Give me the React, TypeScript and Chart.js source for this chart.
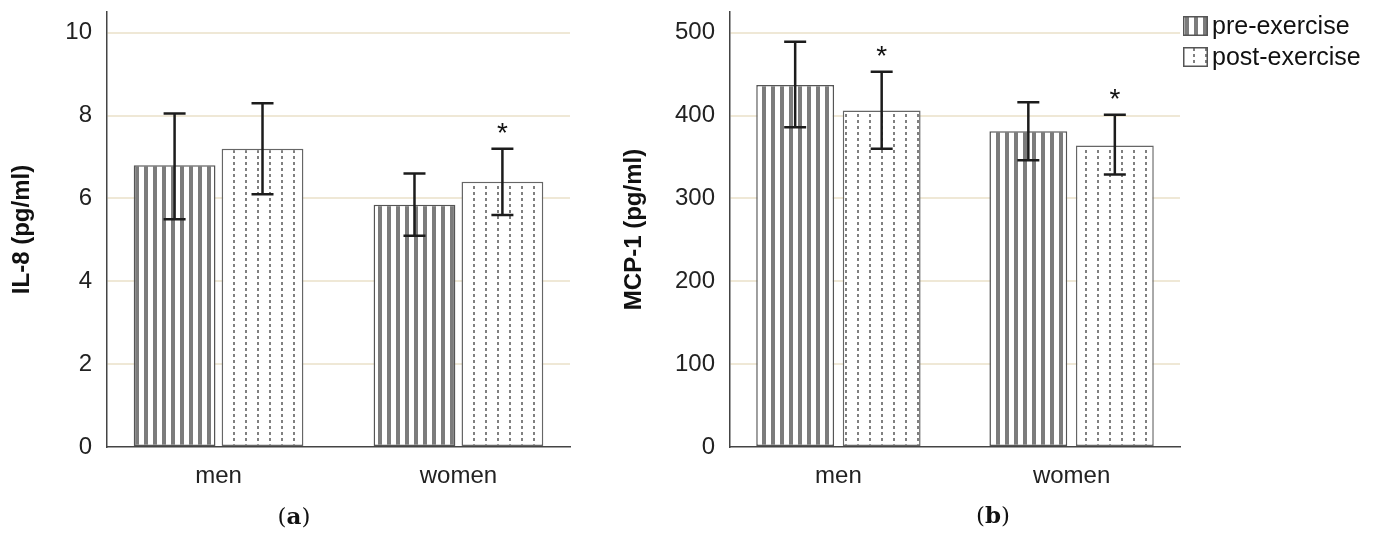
import React, { useEffect, useRef } from 'react';
import { Chart, registerables } from 'chart.js';

Chart.register(...registerables);

// ---------- data ----------
const categories = ['men', 'women'];
const seriesNames = ['pre-exercise', 'post-exercise'];

// Panel (a) IL-8
const il8Pre = [6.8, 5.85];
const il8PreLow = [5.5, 5.1];
const il8PreHigh = [8.05, 6.6];
const il8Post = [7.2, 6.4];
const il8PostLow = [6.1, 5.6];
const il8PostHigh = [8.3, 7.2];
const il8PreSig = [false, false];
const il8PostSig = [false, true];
const il8Ticks = [0, 2, 4, 6, 8, 10];
const il8Max = 10.5;

// Panel (b) MCP-1
const mcpPre = [437, 381];
const mcpPreLow = [386, 346];
const mcpPreHigh = [489, 416];
const mcpPost = [406, 364];
const mcpPostLow = [360, 329];
const mcpPostHigh = [453, 401];
const mcpPreSig = [false, false];
const mcpPostSig = [true, true];
const mcpTicks = [0, 100, 200, 300, 400, 500];
const mcpMax = 525;

const FONT = "'Liberation Sans', Arial, sans-serif";

// ---------- patterns ----------
function makeStripePattern(ctx: CanvasRenderingContext2D) {
  const c = document.createElement('canvas');
  c.width = 9;
  c.height = 4;
  const g = c.getContext('2d')!;
  g.fillStyle = '#ffffff';
  g.fillRect(0, 0, 9, 4);
  g.fillStyle = '#7c7c7c';
  g.fillRect(0, 0, 4, 4);
  return ctx.createPattern(c, 'repeat')!;
}

function makeDotPattern(ctx: CanvasRenderingContext2D) {
  const c = document.createElement('canvas');
  c.width = 12;
  c.height = 6;
  const g = c.getContext('2d')!;
  g.fillStyle = '#ffffff';
  g.fillRect(0, 0, 12, 6);
  g.fillStyle = '#808080';
  g.fillRect(5, 0, 2, 3);
  return ctx.createPattern(c, 'repeat')!;
}

// ---------- plugins ----------
const errorBarPlugin = {
  id: 'errBars',
  afterDatasetsDraw(chart: any, _args: any, opts: any) {
    const ctx = chart.ctx as CanvasRenderingContext2D;
    const y = chart.scales.y;
    chart.data.datasets.forEach((_ds: any, di: number) => {
      const meta = chart.getDatasetMeta(di);
      meta.data.forEach((bar: any, i: number) => {
        const lo = y.getPixelForValue(opts.low[di][i]);
        const hi = y.getPixelForValue(opts.high[di][i]);
        const x = bar.x;
        ctx.save();
        ctx.strokeStyle = '#1c1c1c';
        ctx.lineWidth = 2.5;
        ctx.beginPath();
        ctx.moveTo(x, lo);
        ctx.lineTo(x, hi);
        ctx.moveTo(x - 11, lo);
        ctx.lineTo(x + 11, lo);
        ctx.moveTo(x - 11, hi);
        ctx.lineTo(x + 11, hi);
        ctx.stroke();
        if (opts.sig[di][i]) {
          const fs = 28;
          ctx.fillStyle = '#111';
          ctx.font = `${fs}px ${FONT}`;
          ctx.textAlign = 'center';
          ctx.textBaseline = 'alphabetic';
          ctx.fillText('*', x, hi - 23 + 0.57 * fs);
        }
        ctx.restore();
      });
    });
  },
};

const patternLegendPlugin = {
  id: 'patLegend',
  afterDraw(chart: any, _args: any, opts: any) {
    if (!opts || !opts.show) return;
    const ctx = chart.ctx as CanvasRenderingContext2D;
    chart.data.datasets.forEach((ds: any, di: number) => {
      const bx = opts.x;
      const by = opts.y + di * opts.rowH;
      ctx.save();
      ctx.fillStyle = ds.backgroundColor;
      ctx.fillRect(bx, by, opts.boxW, opts.boxH);
      ctx.strokeStyle = '#555';
      ctx.lineWidth = 1.5;
      ctx.strokeRect(bx + 0.75, by + 0.75, opts.boxW - 1.5, opts.boxH - 1.5);
      ctx.fillStyle = '#111';
      ctx.font = `${opts.fontSize}px ${FONT}`;
      ctx.textAlign = 'left';
      ctx.textBaseline = 'middle';
      ctx.fillText(ds.label, bx + opts.boxW + 4, by + opts.boxH / 2 + 1);
      ctx.restore();
    });
  },
};

// ---------- chart panel ----------
type PanelProps = {
  width: number;
  height: number;
  axisLeft: number;
  plotRight: number;
  title: string;
  titlePad: number;
  pre: number[];
  post: number[];
  preLow: number[];
  preHigh: number[];
  postLow: number[];
  postHigh: number[];
  preSig: boolean[];
  postSig: boolean[];
  ticks: number[];
  yMax: number;
  catPct: number;
  barPct: number;
  legend?: boolean;
};

function Panel(p: PanelProps) {
  const ref = useRef<HTMLCanvasElement>(null);
  useEffect(() => {
    const canvas = ref.current!;
    const ctx = canvas.getContext('2d')!;
    const stripes = makeStripePattern(ctx);
    const dots = makeDotPattern(ctx);
    const chart = new Chart(canvas, {
      type: 'bar',
      data: {
        datasets: [
          {
            label: seriesNames[0],
            data: categories.map((_c, i) => ({ x: i, y: p.pre[i] })),
            backgroundColor: stripes as any,
            borderColor: '#555555',
            borderWidth: 1.5,
            borderSkipped: false,
            categoryPercentage: p.catPct,
            barPercentage: p.barPct,
          },
          {
            label: seriesNames[1],
            data: categories.map((_c, i) => ({ x: i, y: p.post[i] })),
            backgroundColor: dots as any,
            borderColor: '#666666',
            borderWidth: 1.5,
            borderSkipped: false,
            categoryPercentage: p.catPct,
            barPercentage: p.barPct,
          },
        ],
      },
      options: {
        animation: false,
        responsive: false,
        events: [],
        layout: {
          padding: { top: 12, right: p.width - p.plotRight, left: 0, bottom: 0 },
        },
        scales: {
          x: {
            type: 'linear',
            min: -0.465,
            max: 1.465,
            offset: false,
            grid: { display: false },
            border: { display: true, color: '#444', width: 1.5 },
            afterBuildTicks: (scale: any) => {
              scale.ticks = categories.map((_c, i) => ({ value: i }));
            },
            afterFit: (scale: any) => {
              scale.height = p.height - 447;
              scale.paddingLeft = 0;
              scale.paddingRight = 0;
            },
            ticks: {
              padding: 7,
              color: '#222',
              font: { size: 24, family: FONT },
              maxRotation: 0,
              autoSkip: false,
              callback: (v: any) => categories[v] ?? '',
            },
          },
          y: {
            type: 'linear',
            min: 0,
            max: p.yMax,
            grid: {
              drawTicks: false,
              lineWidth: 2,
              color: (c: any) => (c.tick && c.tick.value === 0 ? 'rgba(0,0,0,0)' : '#efe8d6'),
            },
            border: { display: true, color: '#444', width: 1.5 },
            afterBuildTicks: (scale: any) => {
              scale.ticks = p.ticks.map((v) => ({ value: v }));
            },
            afterFit: (scale: any) => {
              scale.width = p.axisLeft;
              scale.paddingTop = 0;
              scale.paddingBottom = 0;
            },
            ticks: {
              padding: 15,
              color: '#222',
              font: { size: 24, family: FONT },
            },
            title: {
              display: true,
              text: p.title,
              color: '#111',
              font: { size: 24, weight: 'bold', family: FONT },
              padding: { top: p.titlePad, bottom: 0 },
            },
          },
        },
        plugins: {
          legend: { display: false },
          tooltip: { enabled: false },
          errBars: {
            low: [p.preLow, p.postLow],
            high: [p.preHigh, p.postHigh],
            sig: [p.preSig, p.postSig],
          },
          patLegend: {
            show: !!p.legend,
            x: p.plotRight + 3,
            y: 16,
            rowH: 31,
            boxW: 25,
            boxH: 20,
            fontSize: 25,
          },
        } as any,
      },
      plugins: [errorBarPlugin, patternLegendPlugin],
    } as any);
    return () => chart.destroy();
  }, []);
  return (
    <canvas
      ref={ref}
      width={p.width}
      height={p.height}
      style={{ display: 'block', width: p.width, height: p.height }}
    />
  );
}

const captionStyle: React.CSSProperties = {
  position: 'absolute',
  fontFamily: "'DejaVu Serif', 'Liberation Serif', serif",
  fontSize: 23,
  color: '#111',
  lineHeight: '26px',
  transform: 'translate(-50%, -50%)',
  whiteSpace: 'nowrap',
};

export default function App() {
  return (
    <div
      style={{
        position: 'absolute',
        left: 0,
        top: 0,
        width: 1381,
        height: 534,
        background: '#ffffff',
        overflow: 'hidden',
      }}
    >
      <div style={{ position: 'absolute', left: 0, top: 0 }}>
        <Panel
          width={600}
          height={534}
          axisLeft={107}
          plotRight={570}
          title="IL-8 (pg/ml)"
          titlePad={8}
          pre={il8Pre}
          post={il8Post}
          preLow={il8PreLow}
          preHigh={il8PreHigh}
          postLow={il8PostLow}
          postHigh={il8PostHigh}
          preSig={il8PreSig}
          postSig={il8PostSig}
          ticks={il8Ticks}
          yMax={il8Max}
          catPct={0.733}
          barPct={0.93}
        />
      </div>
      <div style={{ position: 'absolute', left: 600, top: 0 }}>
        <Panel
          width={781}
          height={534}
          axisLeft={130}
          plotRight={580}
          title="MCP-1 (pg/ml)"
          titlePad={20}
          pre={mcpPre}
          post={mcpPost}
          preLow={mcpPreLow}
          preHigh={mcpPreHigh}
          postLow={mcpPostLow}
          postHigh={mcpPostHigh}
          preSig={mcpPreSig}
          postSig={mcpPostSig}
          ticks={mcpTicks}
          yMax={mcpMax}
          catPct={0.742}
          barPct={0.9}
          legend
        />
      </div>
      <div style={{ ...captionStyle, left: 294, top: 516 }}>
        (<b>a</b>)
      </div>
      <div style={{ ...captionStyle, left: 993, top: 515 }}>
        (<b>b</b>)
      </div>
    </div>
  );
}
